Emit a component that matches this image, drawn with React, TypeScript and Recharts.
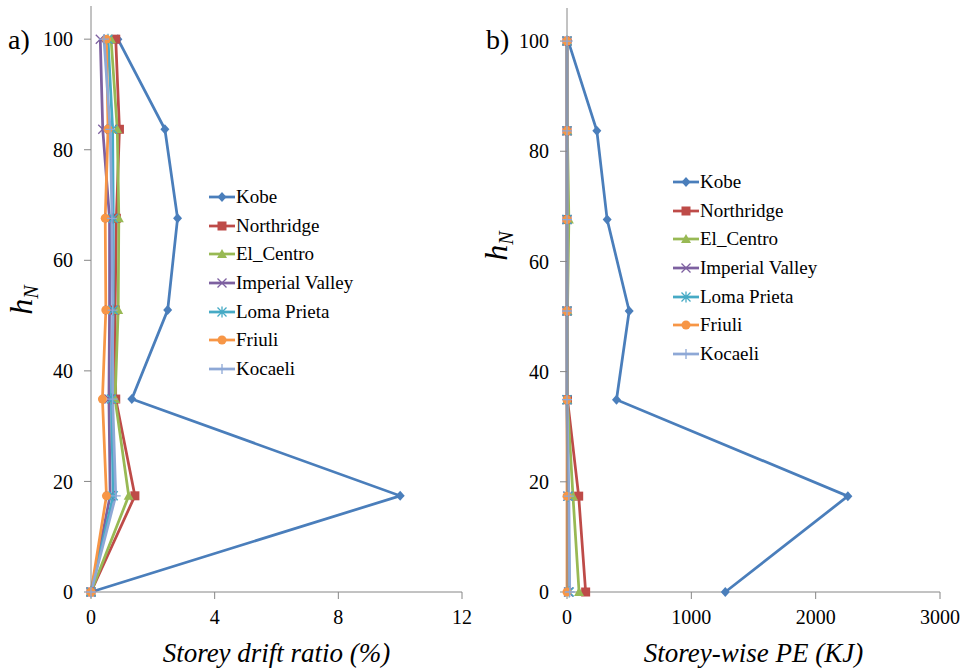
import React from 'react';
import { Legend, Line, LineChart, XAxis, YAxis } from 'recharts';

// normalised storey height (%) at each floor level
const heights = [0, 17.4, 34.9, 51.0, 67.6, 83.7, 100];

// storey drift ratio (%) per record, bottom to top
const driftKobe = [0, 10.0, 1.32, 2.48, 2.8, 2.39, 0.87];
const driftNorthridge = [0, 1.42, 0.8, 0.78, 0.82, 0.92, 0.8];
const driftElCentro = [0, 1.22, 0.78, 0.88, 0.9, 0.85, 0.65];
const driftImperial = [0, 0.62, 0.58, 0.6, 0.6, 0.38, 0.3];
const driftLoma = [0, 0.72, 0.66, 0.72, 0.72, 0.7, 0.55];
const driftFriuli = [0, 0.5, 0.37, 0.48, 0.46, 0.55, 0.5];
const driftKocaeli = [0, 0.8, 0.7, 0.7, 0.68, 0.62, 0.42];

// storey-wise potential energy (KJ) per record, bottom to top
const peKobe = [1273, 2259, 398, 500, 323, 240, 10];
const peNorthridge = [150, 94, 4, 0, 0, 0, 0];
const peElCentro = [97, 48, 3, 4, 15, 3, 0];
const peImperial = [12, 6, 0, 0, 0, 0, 0];
const peLoma = [18, 10, 0, 0, 0, 0, 0];
const peFriuli = [0, 0, 0, 0, 0, 0, 0];
const peKocaeli = [22, 15, 0, 0, 0, 0, 0];

const driftTicks = [0, 4, 8, 12];
const peTicks = [0, 1000, 2000, 3000];
const hTicks = [0, 20, 40, 60, 80, 100];

type Marker = 'diamond' | 'square' | 'triangle' | 'x' | 'asterisk' | 'circle' | 'plus';

interface Series {
  name: string;
  color: string;
  marker: Marker;
  drift: number[];
  pe: number[];
}

const SERIES: Series[] = [
  { name: 'Kobe', color: '#4A7EBB', marker: 'diamond', drift: driftKobe, pe: peKobe },
  { name: 'Northridge', color: '#BE4B48', marker: 'square', drift: driftNorthridge, pe: peNorthridge },
  { name: 'El_Centro', color: '#98B954', marker: 'triangle', drift: driftElCentro, pe: peElCentro },
  { name: 'Imperial Valley', color: '#7D60A0', marker: 'x', drift: driftImperial, pe: peImperial },
  { name: 'Loma Prieta', color: '#46AAC5', marker: 'asterisk', drift: driftLoma, pe: peLoma },
  { name: 'Friuli', color: '#F79646', marker: 'circle', drift: driftFriuli, pe: peFriuli },
  { name: 'Kocaeli', color: '#8EA8D6', marker: 'plus', drift: driftKocaeli, pe: peKocaeli },
];

const FONT = 'serif';
const AXIS = '#868686';

const driftRows = heights.map((h, i) => {
  const row: Record<string, number> = { h };
  SERIES.forEach((s) => (row[s.name] = s.drift[i]));
  return row;
});

const peRows = heights.map((h, i) => {
  const row: Record<string, number> = { h };
  SERIES.forEach((s) => (row[s.name] = s.pe[i]));
  return row;
});

function MarkerShape({ type, cx, cy, color }: { type: Marker; cx: number; cy: number; color: string }) {
  const r = 4.5;
  switch (type) {
    case 'diamond':
      return <path d={`M${cx},${cy - r - 0.5}L${cx + r},${cy}L${cx},${cy + r + 0.5}L${cx - r},${cy}Z`} fill={color} />;
    case 'square':
      return <rect x={cx - 4.5} y={cy - 4.5} width={9} height={9} fill={color} />;
    case 'triangle':
      return <path d={`M${cx},${cy - 5}L${cx + 5},${cy + 4}L${cx - 5},${cy + 4}Z`} fill={color} />;
    case 'x':
      return (
        <path d={`M${cx - r},${cy - r}L${cx + r},${cy + r}M${cx - r},${cy + r}L${cx + r},${cy - r}`} stroke={color} strokeWidth={1.3} fill="none" />
      );
    case 'asterisk':
      return (
        <path
          d={`M${cx - r},${cy - r}L${cx + r},${cy + r}M${cx - r},${cy + r}L${cx + r},${cy - r}M${cx},${cy - r - 1}L${cx},${cy + r + 1}`}
          stroke={color}
          strokeWidth={1.3}
          fill="none"
        />
      );
    case 'circle':
      return <circle cx={cx} cy={cy} r={4.5} fill={color} />;
    case 'plus':
      return <path d={`M${cx - 5},${cy}L${cx + 5},${cy}M${cx},${cy - 5}L${cx},${cy + 5}`} stroke={color} strokeWidth={1.3} fill="none" />;
  }
  return null;
}

function LegendBox() {
  return (
    <div style={{ fontFamily: FONT, fontSize: 19, color: '#000' }}>
      {SERIES.map((s) => (
        <div key={s.name} style={{ display: 'flex', alignItems: 'center', height: 28.6, whiteSpace: 'nowrap' }}>
          <svg width={26} height={14} style={{ marginRight: 1 }}>
            <line x1={0} y1={7} x2={26} y2={7} stroke={s.color} strokeWidth={2.75} />
            <MarkerShape type={s.marker} cx={13} cy={7} color={s.color} />
          </svg>
          <span>{s.name}</span>
        </div>
      ))}
    </div>
  );
}

interface PanelProps {
  rows: Record<string, number>[];
  xDomain: [number, number];
  xTicks: number[];
  xTitle: string;
  margin: { top: number; right: number; bottom: number; left: number };
  legendPos: { left: number; top: number };
}

function Panel({ rows, xDomain, xTicks, xTitle, margin, legendPos }: PanelProps) {
  const tickStyle = { fill: '#000', fontSize: 20, fontFamily: FONT };
  return (
    <LineChart layout="vertical" width={485} height={668} data={rows} margin={margin}>
      <XAxis
        type="number"
        domain={xDomain}
        ticks={xTicks}
        axisLine={{ stroke: AXIS }}
        tickLine={{ stroke: AXIS }}
        tickSize={7}
        tickMargin={11}
        tick={tickStyle}
        height={76}
        label={{
          value: xTitle,
          position: 'insideBottom',
          offset: 6,
          style: { fontFamily: FONT, fontSize: 27, fontStyle: 'italic', fill: '#000' },
        }}
      />
      <YAxis
        type="number"
        dataKey="h"
        domain={[0, 106]}
        ticks={hTicks}
        reversed
        axisLine={{ stroke: AXIS }}
        tickLine={{ stroke: AXIS }}
        tickSize={7}
        tickMargin={11}
        tick={tickStyle}
        width={60}
      />
      <Legend
        layout="vertical"
        align="center"
        verticalAlign="middle"
        wrapperStyle={{ left: legendPos.left, top: legendPos.top, width: 'auto' }}
        content={() => <LegendBox />}
      />
      {SERIES.map((s) => (
        <Line
          key={s.name}
          dataKey={s.name}
          stroke={s.color}
          strokeWidth={2.75}
          isAnimationActive={false}
          dot={(p: any) => <MarkerShape key={`${s.name}-${p.index}`} type={s.marker} cx={p.cx} cy={p.cy} color={s.color} />}
          activeDot={false}
        />
      ))}
    </LineChart>
  );
}

function HLabel({ left, top }: { left: number; top: number }) {
  return (
    <div
      style={{
        position: 'absolute',
        left,
        top,
        transform: 'translate(-50%, -50%) rotate(-90deg)',
        fontFamily: FONT,
        fontSize: 32,
        fontStyle: 'italic',
        lineHeight: 1,
        whiteSpace: 'nowrap',
      }}
    >
      h<span style={{ fontSize: 20, verticalAlign: -6 }}>N</span>
    </div>
  );
}

export default function App() {
  return (
    <div style={{ position: 'absolute', left: 0, top: 0, width: 970, height: 668, background: '#fff', overflow: 'hidden', fontFamily: FONT }}>
      <div style={{ position: 'absolute', left: 0, top: 0 }}>
        <Panel
          rows={driftRows}
          xDomain={[0, 12]}
          xTicks={driftTicks}
          xTitle="Storey drift ratio (%)"
          margin={{ top: 6, right: 23, bottom: 0, left: 31 }}
          legendPos={{ left: 209, top: 183 }}
        />
      </div>
      <div style={{ position: 'absolute', left: 485, top: 0 }}>
        <Panel
          rows={peRows}
          xDomain={[0, 3000]}
          xTicks={peTicks}
          xTitle="Storey-wise PE (KJ)"
          margin={{ top: 8, right: 30, bottom: 0, left: 22 }}
          legendPos={{ left: 188, top: 168 }}
        />
      </div>
      <HLabel left={23} top={300} />
      <HLabel left={498} top={246} />
      <div style={{ position: 'absolute', left: 8, top: 26, fontSize: 28, lineHeight: 1 }}>a)</div>
      <div style={{ position: 'absolute', left: 486, top: 26, fontSize: 28, lineHeight: 1 }}>b)</div>
    </div>
  );
}
